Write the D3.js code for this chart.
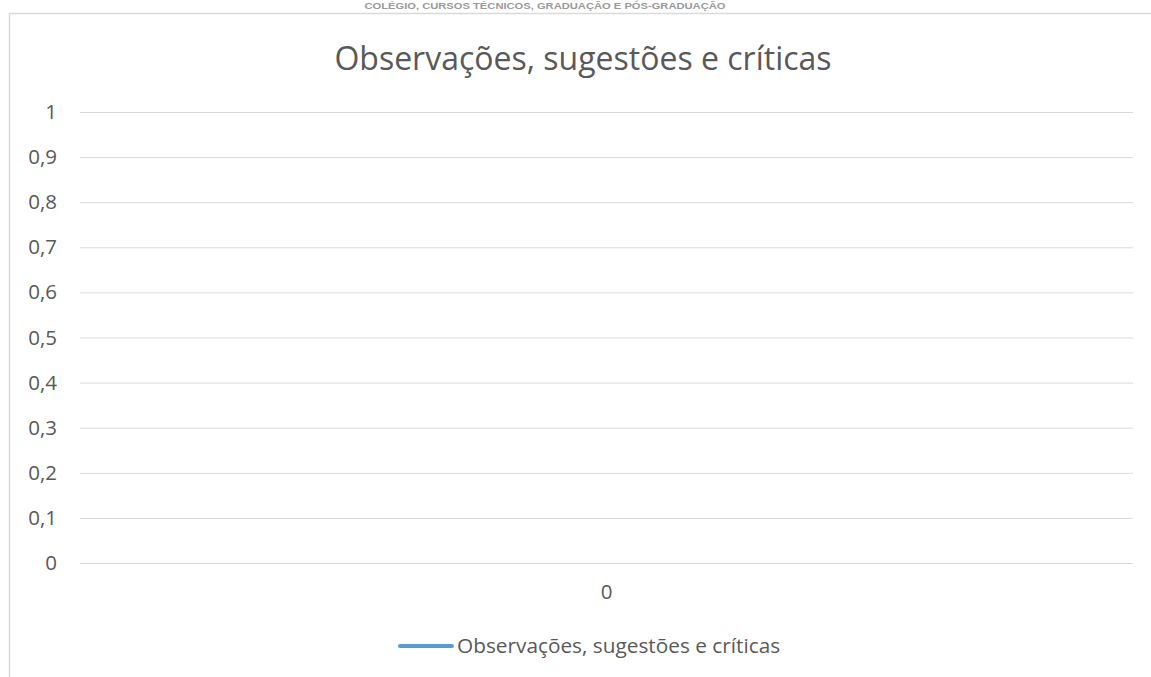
<!DOCTYPE html>
<html><head><meta charset="utf-8">
<script src="https://cdn.jsdelivr.net/npm/d3@7"></script>
<style>body{margin:0;background:#fff;}svg{display:block;}</style>
</head><body>
<svg id="c" width="1151" height="677"></svg>
<script>
const headerText = "COLÉGIO, CURSOS TÉCNICOS, GRADUAÇÃO E PÓS-GRADUAÇÃO";
const title = "Observações, sugestões e críticas";
const seriesName = "Observações, sugestões e críticas";
const categories = ["0"];
const seriesValues = [null];
const yTicks = [0, 0.1, 0.2, 0.3, 0.4, 0.5, 0.6, 0.7, 0.8, 0.9, 1];

const svg = d3.select("#c");
const font = "'Open Sans', sans-serif";

// header
svg.append("text").attr("x", 545).attr("y", 9).attr("text-anchor", "middle")
  .attr("font-family", "'Liberation Sans', sans-serif").attr("font-size", 8.5)
  .attr("font-weight", "bold").attr("fill", "#9a9a9a")
  .attr("textLength", 361).attr("lengthAdjust", "spacingAndGlyphs").text(headerText);

// chart border
svg.append("path").attr("d", "M9.5,677 V13.5 H1151").attr("fill", "none")
  .attr("stroke", "#d9d9d9").attr("stroke-width", 1.5);

svg.append("text").attr("x", 583).attr("y", 70).attr("text-anchor", "middle")
  .attr("font-family", font).attr("font-size", 32).attr("fill", "#595959").text(title);

const x = d3.scaleBand().domain(categories).range([80, 1133]);
const y = d3.scaleLinear().domain([0, 1]).range([563, 112]);
const fmt = d => d3.format("~g")(d).replace(".", ",");

const gy = svg.append("g").attr("transform", "translate(80,0)")
  .call(d3.axisLeft(y).tickValues(yTicks).tickSize(-1053).tickPadding(23).tickFormat(fmt));
gy.select(".domain").remove();
gy.selectAll("line").attr("stroke", "#d9d9d9").attr("stroke-width", 1);
gy.selectAll("text").attr("font-family", font).attr("font-size", 20.5).attr("fill", "#595959");

const gx = svg.append("g").attr("transform", "translate(0,563)")
  .call(d3.axisBottom(x).tickSize(0).tickPadding(21));
gx.select(".domain").remove();
gx.selectAll("text").attr("font-family", font).attr("font-size", 20.5).attr("fill", "#595959");

const line = d3.line().defined(d => d != null)
  .x((d, i) => x(categories[i]) + x.bandwidth() / 2).y(d => y(d));
svg.append("path").datum(seriesValues).attr("d", line).attr("fill", "none")
  .attr("stroke", "#5b9bd5").attr("stroke-width", 3.5);

// legend
svg.append("line").attr("x1", 400).attr("x2", 452).attr("y1", 646).attr("y2", 646)
  .attr("stroke", "#5b9bd5").attr("stroke-width", 4).attr("stroke-linecap", "round");
svg.append("text").attr("x", 457).attr("y", 653).attr("font-family", font)
  .attr("font-size", 20.8).attr("fill", "#595959").text(seriesName);
</script>
</body></html>
